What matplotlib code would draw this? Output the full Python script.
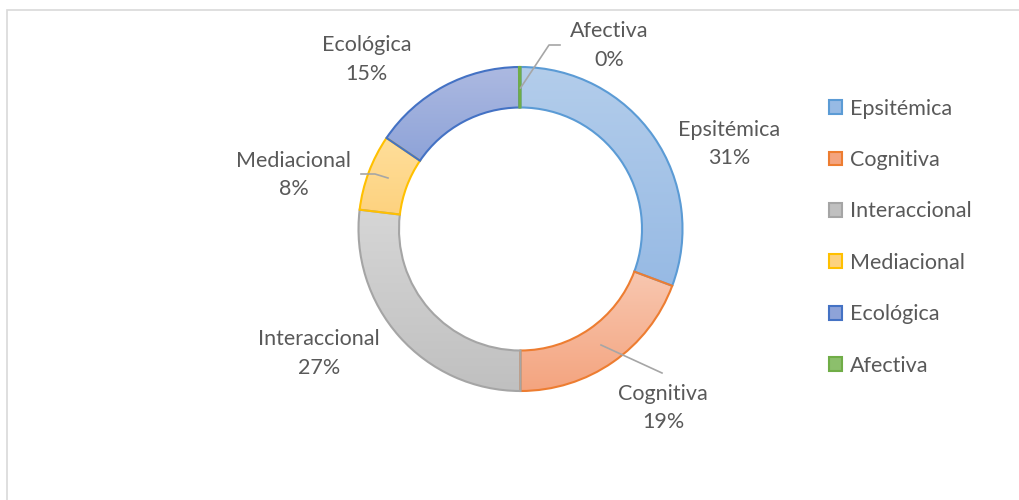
import numpy as np
import matplotlib
matplotlib.use("Agg")
import matplotlib.pyplot as plt
from matplotlib.colors import LinearSegmentedColormap
from matplotlib.patches import Rectangle

categories = ["Epsitémica", "Cognitiva", "Interaccional", "Mediacional", "Ecológica", "Afectiva"]
shares = [30.7, 19.3, 26.9, 7.6, 15.35, 0.15]

edge_colors = ["#5B9BD5", "#ED7D31", "#A5A5A5", "#FFC000", "#4472C4", "#70AD47"]
top_colors = ["#B3CDEB", "#F8C7B0", "#D6D6D6", "#FFDE9A", "#ACB9E1", "#A9D18E"]
bottom_colors = ["#97BAE4", "#F4A47F", "#C0C0C0", "#FDD27F", "#8EA3D8", "#8CBF6C"]

# label block centres, as (angle in degrees, distance in px) from the ring centre
label_polar = [(22.2, 225), (-51.4, 229), (211.7, 237), (166.6, 233), (132.2, 229), (64.3, 204)]

text_color = "#595959"
plt.rcParams["font.family"] = ["Lato", "DejaVu Sans"]
fs = 15.5

W, H = 1019, 500
fig = plt.figure(figsize=(W / 100, H / 100), dpi=100)
ax = fig.add_axes([0, 0, 1, 1])

# thin chart-area frame
fig.patches.append(Rectangle((7 / W, -0.1), 1.1, (H - 10) / H + 0.1, transform=fig.transFigure,
                             fill=False, edgecolor="#D9D9D9", linewidth=1.2))

cx, cy, R = 520.5, H - 229, 162
wedges, _ = ax.pie(shares, colors=bottom_colors, startangle=90, counterclock=False,
                   center=(cx, cy), radius=R, frame=True,
                   wedgeprops=dict(width=R * 0.25, linewidth=1.5))
for w, ec in zip(wedges, edge_colors):
    w.set_edgecolor(ec)

# legend with solid swatches
leg = ax.legend(wedges, categories, loc="upper left", bbox_to_anchor=(820 / W, 1 - 90 / H),
                frameon=False, fontsize=fs, labelspacing=1.46, handlelength=0.6,
                handleheight=0.6, handletextpad=0.38, borderaxespad=0)
for t in leg.get_texts():
    t.set_color(text_color)

# vertical gradient fill clipped to each slice
for w, c0, c1 in zip(wedges, top_colors, bottom_colors):
    bb = w.get_path().get_extents(w.get_transform() - ax.transData)
    cmap = LinearSegmentedColormap.from_list("g", [c1, c0])
    grad = np.linspace(0, 1, 256).reshape(-1, 1)
    im = ax.imshow(grad, cmap=cmap, origin="lower", aspect="auto",
                   extent=(bb.x0, bb.x1, bb.y0, bb.y1), zorder=1)
    im.set_clip_path(w)
    w.set_facecolor("none")
    w.set_zorder(2)

ax.set_xlim(0, W)
ax.set_ylim(0, H)
ax.set_aspect("equal")
ax.axis("off")

# data labels
for i, (ang, dist) in enumerate(label_polar):
    a = np.deg2rad(ang)
    lx, ly = cx + dist * np.cos(a), cy + dist * np.sin(a)
    ax.text(lx, ly, "%s\n%.0f%%" % (categories[i], shares[i]), ha="center", va="center",
            fontsize=fs, color=text_color, linespacing=1.55, zorder=5)

# leader lines for the labels that sit away from their slice
ax.plot([520.5, 549, 560], [H - 88, H - 45, H - 45], color="#A6A6A6", lw=1.2, zorder=4)
ax.plot([388, 375, 361], [H - 178, H - 174, H - 174], color="#A6A6A6", lw=1.2, zorder=4)
ax.plot([601, 662], [H - 345, H - 373], color="#A6A6A6", lw=1.2, zorder=4)

fig.savefig("out.png", dpi=100, facecolor="white")
